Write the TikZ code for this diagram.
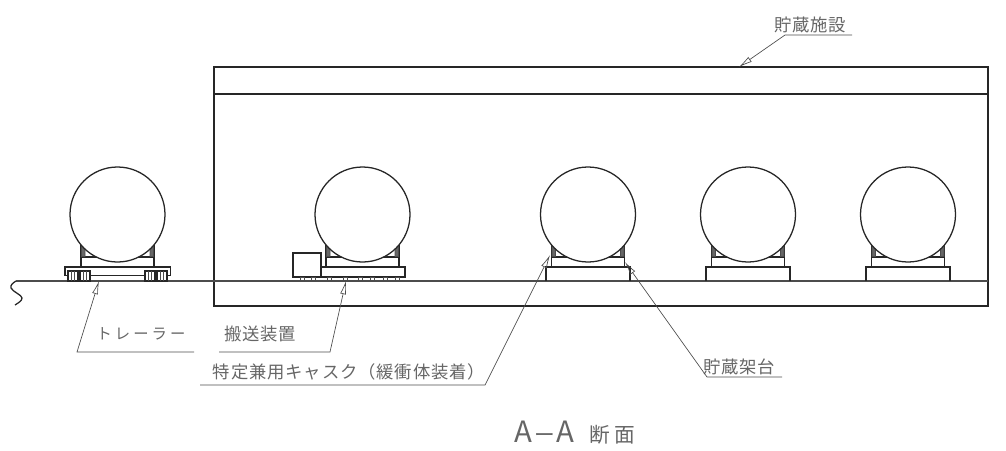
\documentclass[tikz,border=0pt]{standalone}
\usepackage{fontspec}
\usetikzlibrary{arrows.meta}
\newfontfamily\jpfont{Noto Sans CJK JP}
\newfontfamily\jpwide[LetterSpace=5]{Noto Sans CJK JP}
\newfontfamily\jpwider[LetterSpace=20]{Noto Sans CJK JP}
\tikzset{
  wall/.style={line width=0.95pt, black!85},
  ground/.style={line width=1.15pt, black!70},
  leader/.style={line width=0.5pt, black!70},
  tip/.style={leader, -{Latex[open, length=10pt, width=4.5pt]}},
  label/.style={inner sep=0pt, text=black!60, font=\jpwide\fontsize{13}{13}\selectfont},
  tank/.pic={
    \draw[wall] (-36.5,30.5)--(-36.5,52.5);
    \draw[wall] (36.5,30.5)--(36.5,52.5);
    \draw[wall] (-36.5,42.5)--(-20,42.5);
    \draw[wall] (36.5,42.5)--(20,42.5);
    \draw[leader, fill=black!60] (-36,31)--(-36,42)--(-32.5,42)--(-32.5,34)--cycle;
    \draw[leader, fill=black!60] (36,31)--(36,42)--(32.5,42)--(32.5,34)--cycle;
    \draw[leader] (-32.5,34)--(-23,42);
    \draw[leader] (32.5,34)--(23,42);
    \draw[wall, fill=white] (0,0) circle (47.5);
  }
}
\begin{document}
\begin{tikzpicture}[x=0.75pt, y=-0.75pt]
\useasboundingbox (0,0) rectangle (1006,450);
\draw[wall] (214,67) rectangle (988,306);
\draw[wall] (214,94)--(988,94);
\draw[ground] (988,281)--(16,281);
\draw[wall] (16,281) .. controls (13,283) and (10,285) .. (11,288) .. controls (13,292) and (22,295) .. (22,298) .. controls (22,301) and (18,303) .. (15,305);
\path (117.5,214.5) pic {tank};
\path (362.5,214.5) pic {tank};
\foreach \c in {588,748,908} {
  \path (\c,214.5) pic {tank};
  \draw[wall] (\c-42,281)--(\c-42,267)--(\c+42,267)--(\c+42,281);
}
\draw[wall] (65,275.5)--(65,267)--(170.5,267)--(170.5,275.5)--cycle;
\foreach \w in {68,80,145,157} {
  \draw[wall, fill=white] (\w,271) rectangle (\w+10,281);
  \draw[leader] (\w+3.5,271)--(\w+3.5,281);
  \draw[leader] (\w+6.5,271)--(\w+6.5,281);
}
\draw[wall] (293,253) rectangle (321,277);
\draw[wall] (321,267) rectangle (405,277);
\foreach \w in {302,313,329,345,360,372,385,397} \draw[leader] (\w-2,277) rectangle (\w+2,281);
\node[label] (storage) at (810,25) {貯蔵施設};
\node[label, font=\jpwider\fontsize{11.5}{11.5}\selectfont] (trailer) at (141,334) {トレーラー};
\node[label] (carrier) at (260,334) {搬送装置};
\node[label] (cask) at (349,372) {特定兼用キャスク（緩衝体装着）};
\node[label] (stand) at (739,367) {貯蔵架台};
\node[inner sep=0pt, text=black!60, font=\jpfont\fontsize{15.5}{15.5}\selectfont] (section) at (575,433) {{\fontsize{22}{22}\selectfont A}\hspace{1pt}ー\hspace{1pt}{\fontsize{22}{22}\selectfont A}\hspace{12pt}断\hspace{3pt}面};
\coordinate (storageend) at (852,35);
\coordinate (storageknee) at (785,35);
\coordinate (storagetip) at (739,67);
\coordinate (trailerend) at (194,352);
\coordinate (trailerknee) at (77,352);
\coordinate (trailertip) at (99,281);
\coordinate (carrierend) at (219,352);
\coordinate (carrierknee) at (330,352);
\coordinate (carriertip) at (346,281);
\coordinate (caskend) at (200,385);
\coordinate (caskknee) at (485,385);
\coordinate (casktip) at (550,255);
\coordinate (standend) at (782,377);
\coordinate (standknee) at (707,377);
\coordinate (standtip) at (625,262);
\draw[tip] (storageend)--(storageknee)--(storagetip);
\draw[tip] (trailerend)--(trailerknee)--(trailertip);
\draw[tip] (carrierend)--(carrierknee)--(carriertip);
\draw[tip] (caskend)--(caskknee)--(casktip);
\draw[tip] (standend)--(standknee)--(standtip);
\end{tikzpicture}
\end{document}
